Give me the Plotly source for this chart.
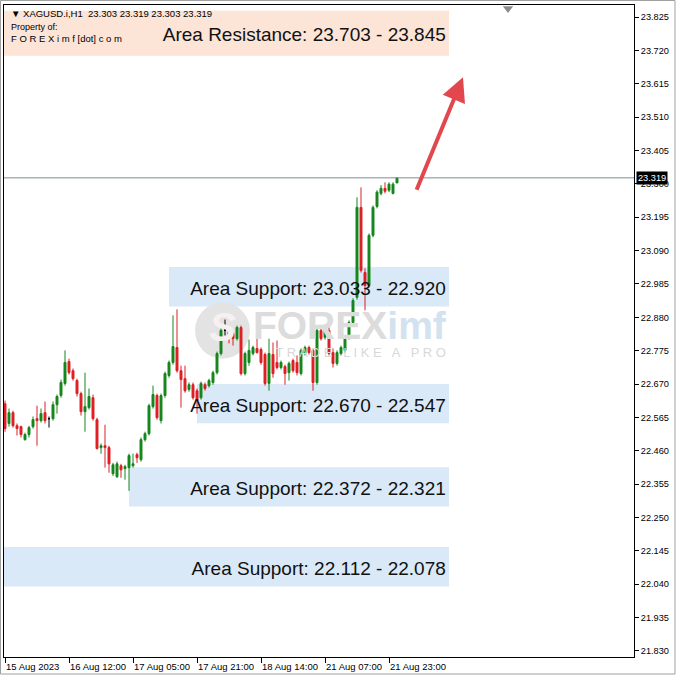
import plotly.graph_objects as go

# ---------------- data ----------------
OPEN = [22.608, 22.546, 22.580, 22.539, 22.536, 22.495, 22.511, 22.536, 22.561, 22.555,
        22.580, 22.561, 22.561, 22.605, 22.634, 22.672, 22.741, 22.712, 22.681, 22.640,
        22.583, 22.596, 22.627, 22.558, 22.470, 22.476, 22.470, 22.388, 22.378, 22.413,
        22.404, 22.407, 22.413, 22.448, 22.432, 22.495, 22.514, 22.599, 22.634, 22.555,
        22.634, 22.697, 22.738, 22.785, 22.712, 22.687, 22.653, 22.668, 22.649, 22.627,
        22.668, 22.665, 22.675, 22.706, 22.766, 22.839, 22.835, 22.829, 22.813, 22.848,
        22.703, 22.738, 22.766, 22.782, 22.779, 22.763, 22.672, 22.763, 22.738, 22.722,
        22.725, 22.706, 22.744, 22.738, 22.703, 22.766, 22.785, 22.776, 22.675, 22.839,
        22.817, 22.839, 22.769, 22.735, 22.766, 22.776, 22.817, 22.864, 22.943, 23.226,
        23.021, 22.980, 23.138, 23.229, 23.270, 23.286, 23.280, 23.270, 23.303]
HIGH = [22.618, 22.593, 22.586, 22.546, 22.539, 22.517, 22.539, 22.568, 22.602, 22.593,
        22.615, 22.568, 22.615, 22.637, 22.684, 22.776, 22.750, 22.719, 22.687, 22.646,
        22.706, 22.656, 22.637, 22.564, 22.483, 22.542, 22.476, 22.422, 22.426, 22.419,
        22.416, 22.451, 22.451, 22.454, 22.502, 22.520, 22.608, 22.665, 22.640, 22.640,
        22.709, 22.744, 22.886, 22.905, 22.728, 22.728, 22.675, 22.675, 22.656, 22.678,
        22.675, 22.687, 22.712, 22.772, 22.845, 22.873, 22.842, 22.835, 22.854, 22.854,
        22.772, 22.810, 22.791, 22.845, 22.785, 22.769, 22.813, 22.801, 22.807, 22.744,
        22.731, 22.741, 22.750, 22.760, 22.782, 22.791, 22.791, 22.782, 22.848, 22.845,
        22.851, 22.848, 22.782, 22.776, 22.791, 22.823, 22.870, 22.940, 23.258, 23.289,
        23.034, 23.144, 23.232, 23.280, 23.296, 23.305, 23.305, 23.305, 23.319]
LOW = [22.520, 22.536, 22.533, 22.508, 22.502, 22.492, 22.502, 22.530, 22.476, 22.549,
       22.546, 22.533, 22.555, 22.577, 22.627, 22.665, 22.700, 22.681, 22.631, 22.571,
       22.520, 22.590, 22.555, 22.464, 22.451, 22.407, 22.391, 22.381, 22.375, 22.375,
       22.369, 22.334, 22.407, 22.422, 22.426, 22.489, 22.508, 22.593, 22.558, 22.546,
       22.627, 22.690, 22.731, 22.706, 22.596, 22.643, 22.646, 22.621, 22.577, 22.621,
       22.649, 22.659, 22.668, 22.700, 22.760, 22.823, 22.798, 22.791, 22.807, 22.697,
       22.697, 22.728, 22.760, 22.766, 22.731, 22.665, 22.649, 22.690, 22.716, 22.716,
       22.668, 22.681, 22.706, 22.697, 22.697, 22.760, 22.763, 22.649, 22.668, 22.807,
       22.810, 22.760, 22.722, 22.728, 22.760, 22.769, 22.810, 22.858, 22.936, 23.021,
       22.902, 22.974, 23.132, 23.223, 23.264, 23.270, 23.274, 23.267, 23.303]
CLOSE = [22.530, 22.580, 22.539, 22.530, 22.511, 22.511, 22.533, 22.558, 22.555, 22.577,
         22.555, 22.561, 22.605, 22.631, 22.675, 22.738, 22.706, 22.687, 22.640, 22.583,
         22.599, 22.631, 22.561, 22.467, 22.476, 22.470, 22.419, 22.416, 22.419, 22.400,
         22.410, 22.445, 22.419, 22.438, 22.495, 22.514, 22.602, 22.637, 22.564, 22.634,
         22.703, 22.738, 22.788, 22.712, 22.684, 22.649, 22.668, 22.627, 22.618, 22.672,
         22.656, 22.681, 22.706, 22.766, 22.839, 22.839, 22.823, 22.813, 22.848, 22.703,
         22.766, 22.776, 22.785, 22.769, 22.738, 22.672, 22.766, 22.703, 22.722, 22.738,
         22.703, 22.735, 22.712, 22.706, 22.776, 22.785, 22.769, 22.675, 22.839, 22.813,
         22.842, 22.766, 22.735, 22.769, 22.785, 22.817, 22.864, 22.933, 23.226, 23.028,
         22.980, 23.138, 23.226, 23.274, 23.286, 23.277, 23.299, 23.299, 23.319]

Y_TICKS = [21.830, 21.935, 22.040, 22.145, 22.250, 22.355, 22.460, 22.565, 22.670, 22.775,
           22.880, 22.985, 23.090, 23.195, 23.300, 23.405, 23.510, 23.615, 23.720, 23.825]
X_TICK_BARS = [0, 16, 32, 48, 64, 80, 96]
X_TICK_LABELS = ["15 Aug 2023", "16 Aug 12:00", "17 Aug 05:00", "17 Aug 21:00",
                 "18 Aug 14:00", "21 Aug 07:00", "21 Aug 23:00"]

ZONE_NAMES = ["Area Resistance", "Area Support", "Area Support", "Area Support", "Area Support"]
ZONE_A = [23.703, 23.033, 22.670, 22.372, 22.112]
ZONE_B = [23.845, 22.920, 22.547, 22.321, 22.078]
LAST_PRICE = 23.319
SYMBOL = "XAGUSD.i,H1"

# ---------------- layout / style constants ----------------
W, H = 678, 678
ML, MR, MT, MB = 4, 44, 5, 21
X_RANGE = [-0.25, 157.25]
Y_RANGE = [21.811, 23.863]
ZONE_LEFT = [None, 41, 48, 31, None]     # bar index where each box starts (None = chart edge)
ZONE_RIGHT = 111
ZONE_COLORS = ["#fce4d6", "#dae9f8", "#dae9f8", "#dae9f8", "#dae9f8"]
MIN_HALF = 0.062
GREEN = "#14861a"
RED = "#dc1f26"
FONT = "Liberation Sans"

n = len(OPEN)
idx = list(range(n))

fig = go.Figure()

# zone boxes
for k in range(len(ZONE_A)):
    lo, hi = min(ZONE_A[k], ZONE_B[k]), max(ZONE_A[k], ZONE_B[k])
    c = (lo + hi) / 2
    half = max((hi - lo) / 2, MIN_HALF)
    x0 = X_RANGE[0] if ZONE_LEFT[k] is None else ZONE_LEFT[k]
    fig.add_shape(type="rect", xref="x", yref="y", x0=x0, x1=ZONE_RIGHT,
                  y0=c - half, y1=c + half, fillcolor=ZONE_COLORS[k],
                  line=dict(width=0), layer="below")

# watermark logo circle
fig.add_shape(type="circle", xref="x", yref="y", x0=47.5, x1=61.25, y0=22.750, y1=22.927,
              fillcolor="#e3e3e3", line=dict(width=0), layer="below")

# watermark texts (drawn under candles)
fig.add_trace(go.Scatter(
    x=[54.4], y=[22.836], mode="text",
    text=["<b><i>S</i></b>"], textfont=dict(family=FONT, size=40, color="#f6f0f0"),
    hoverinfo="skip", showlegend=False))
fig.add_trace(go.Scatter(
    x=[110.2], y=[22.842], mode="text", textposition="middle left",
    text=['<b><span style="color:#dcdcdc">FOREX</span><span style="color:#d2e2ef">imf</span></b>'],
    textfont=dict(family=FONT, size=39, color="#dcdcdc"),
    hoverinfo="skip", showlegend=False))
fig.add_trace(go.Scatter(
    x=[110.2], y=[22.765], mode="text", textposition="middle left",
    text=["T R A D E   L I K E   A   P R O"],
    textfont=dict(family=FONT, size=13, color="#d8d8d8"),
    hoverinfo="skip", showlegend=False))

# zone labels
lab_x, lab_y, lab_t = [], [], []
for k in range(len(ZONE_A)):
    lo, hi = min(ZONE_A[k], ZONE_B[k]), max(ZONE_A[k], ZONE_B[k])
    lab_x.append(110.2)
    lab_y.append((lo + hi) / 2 - 0.010)
    lab_t.append(f"{ZONE_NAMES[k]}: {ZONE_A[k]:.3f} - {ZONE_B[k]:.3f}")
fig.add_trace(go.Scatter(
    x=lab_x, y=lab_y, text=lab_t, mode="text", textposition="middle left",
    textfont=dict(family=FONT, size=19, color="#111111"),
    hoverinfo="skip", showlegend=False))

# candles
def sub(mask):
    sel = [i for i in idx if mask(i)]
    return dict(x=sel,
                open=[OPEN[i] for i in sel],
                high=[HIGH[i] for i in sel],
                low=[LOW[i] for i in sel],
                close=[CLOSE[i] for i in sel])

for mask, col in [(lambda i: CLOSE[i] > OPEN[i], GREEN),
                  (lambda i: CLOSE[i] < OPEN[i], RED),
                  (lambda i: CLOSE[i] == OPEN[i], "#000000")]:
    d = sub(mask)
    fig.add_trace(go.Candlestick(
        **d,
        increasing=dict(line=dict(color=col, width=1), fillcolor=col),
        decreasing=dict(line=dict(color=col, width=1), fillcolor=col),
        whiskerwidth=0, showlegend=False, hoverinfo="skip"))

# shift marker at top
fig.add_trace(go.Scatter(x=[125.75], y=[23.852], mode="markers",
                         marker=dict(symbol="triangle-down", size=9, color="#8c8c8c"),
                         cliponaxis=False, hoverinfo="skip", showlegend=False))

# last price line
fig.add_shape(type="line", xref="paper", yref="y", x0=0, x1=1, y0=LAST_PRICE, y1=LAST_PRICE,
              line=dict(color="#7d8c94", width=1))

# arrow
fig.add_annotation(x=114.5, y=23.636, ax=102.75, ay=23.277, xref="x", yref="y",
                   axref="x", ayref="y", text="", showarrow=True,
                   arrowhead=2, arrowsize=1.2, arrowwidth=4, arrowcolor="#e2474d")

# last price tag
fig.add_annotation(xref="paper", yref="y", x=1, y=LAST_PRICE, xanchor="left", xshift=2,
                   text=f"{LAST_PRICE:.3f}", showarrow=False, bgcolor="#000000",
                   font=dict(family=FONT, size=9.2, color="#ffffff"), borderpad=1)

# x tick labels (left aligned at ticks, MT4 style)
for b, t in zip(X_TICK_BARS, X_TICK_LABELS):
    fig.add_annotation(xref="x", yref="paper", x=b, y=0, xanchor="left", yanchor="middle",
                       xshift=-1, yshift=-9, text=t, showarrow=False,
                       font=dict(family=FONT, size=9.5, color="#000000"))

# header texts
ohlc = f"{OPEN[-1]:.3f} {HIGH[-1]:.3f} {LOW[-1]:.3f} {CLOSE[-1]:.3f}"
fig.add_annotation(xref="paper", yref="paper", x=0, y=1, xanchor="left", yanchor="top",
                   xshift=5, yshift=-1, text=f"▼ {SYMBOL}  {ohlc}", showarrow=False,
                   font=dict(family=FONT, size=9.5, color="#000000"))
fig.add_annotation(xref="paper", yref="paper", x=0, y=1, xanchor="left", yanchor="top",
                   xshift=5, yshift=-15, text="Property of:", showarrow=False,
                   font=dict(family=FONT, size=9, color="#000000"))
fig.add_annotation(xref="paper", yref="paper", x=0, y=1, xanchor="left", yanchor="top",
                   xshift=5, yshift=-26, text="F O R E X i m f [dot] c o m", showarrow=False,
                   font=dict(family=FONT, size=9.5, color="#000000"))

# outer frame
fig.add_shape(type="rect", xref="paper", yref="paper",
              x0=-3.5 / 630, x1=(675 - 4) / 630, y0=(657 - 674) / 652, y1=(657 - 0.5) / 652,
              line=dict(color="#a0a0a0", width=1), fillcolor="rgba(0,0,0,0)", layer="below")

fig.update_layout(
    width=W, height=H, margin=dict(l=ML, r=MR, t=MT, b=MB),
    plot_bgcolor="#ffffff", paper_bgcolor="#ffffff",
    font=dict(family=FONT, size=9.2, color="#000000"),
    showlegend=False,
    xaxis=dict(range=X_RANGE, showgrid=False, zeroline=False, rangeslider=dict(visible=False),
               tickvals=X_TICK_BARS, showticklabels=False, ticks="outside", ticklen=5,
               tickcolor="#000000", showline=True, linecolor="#000000", linewidth=1, mirror=True,
               fixedrange=True),
    yaxis=dict(range=Y_RANGE, side="right", showgrid=False, zeroline=False,
               tickvals=Y_TICKS, ticktext=[f"{v:.3f}" for v in Y_TICKS],
               ticks="outside", ticklen=4, tickcolor="#000000",
               tickfont=dict(family=FONT, size=9.2, color="#000000"),
               showline=True, linecolor="#000000", linewidth=1, mirror=True, fixedrange=True),
)

fig.write_html("out.html", config={"displayModeBar": False},
               post_script="document.body.style.margin='0';document.body.style.overflow='hidden';")
